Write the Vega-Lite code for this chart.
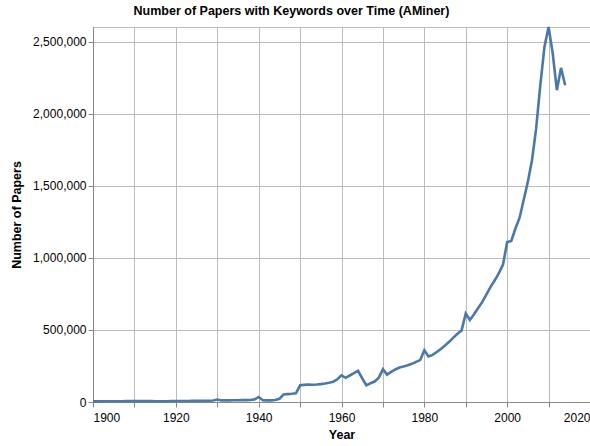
{
  "$schema": "https://vega.github.io/schema/vega-lite/v6.json",
  "autosize": {"type": "none"},
  "padding": {"left": 93, "top": 27, "right": 0, "bottom": 44},
  "width": 497,
  "height": 375,
  "title": {"text": "Number of Papers with Keywords over Time (AMiner)", "fontSize": 12.5, "dx": -50},
  "config": {
    "font": "Liberation Sans",
    "axis": {"gridColor": "#bcbcbc", "domainColor": "#888", "tickColor": "#888", "labelFontSize": 12, "titleFontSize": 12.5},
    "view": {"stroke": "#bcbcbc"}
  },
  "data": {
    "values": [
      {"year": 1900, "papers": 4000}, {"year": 1901, "papers": 4000}, {"year": 1902, "papers": 4000},
      {"year": 1903, "papers": 5000}, {"year": 1904, "papers": 5000}, {"year": 1905, "papers": 5000},
      {"year": 1906, "papers": 5000}, {"year": 1907, "papers": 5000}, {"year": 1908, "papers": 6000},
      {"year": 1909, "papers": 6000}, {"year": 1910, "papers": 7000}, {"year": 1911, "papers": 6000},
      {"year": 1912, "papers": 6000}, {"year": 1913, "papers": 6000}, {"year": 1914, "papers": 6000},
      {"year": 1915, "papers": 5000}, {"year": 1916, "papers": 5000}, {"year": 1917, "papers": 5000},
      {"year": 1918, "papers": 5000}, {"year": 1919, "papers": 6000}, {"year": 1920, "papers": 7000},
      {"year": 1921, "papers": 7000}, {"year": 1922, "papers": 7000}, {"year": 1923, "papers": 7000},
      {"year": 1924, "papers": 8000}, {"year": 1925, "papers": 8000}, {"year": 1926, "papers": 8000},
      {"year": 1927, "papers": 9000}, {"year": 1928, "papers": 9000}, {"year": 1929, "papers": 10000},
      {"year": 1930, "papers": 17000}, {"year": 1931, "papers": 11000}, {"year": 1932, "papers": 11000},
      {"year": 1933, "papers": 11000}, {"year": 1934, "papers": 12000}, {"year": 1935, "papers": 12000},
      {"year": 1936, "papers": 13000}, {"year": 1937, "papers": 13000}, {"year": 1938, "papers": 14000},
      {"year": 1939, "papers": 18000}, {"year": 1940, "papers": 35000}, {"year": 1941, "papers": 12000},
      {"year": 1942, "papers": 11000}, {"year": 1943, "papers": 11000}, {"year": 1944, "papers": 14000},
      {"year": 1945, "papers": 22000}, {"year": 1946, "papers": 52000}, {"year": 1947, "papers": 55000},
      {"year": 1948, "papers": 57000}, {"year": 1949, "papers": 60000}, {"year": 1950, "papers": 116000},
      {"year": 1951, "papers": 119000}, {"year": 1952, "papers": 122000}, {"year": 1953, "papers": 120000},
      {"year": 1954, "papers": 121000}, {"year": 1955, "papers": 124000}, {"year": 1956, "papers": 128000},
      {"year": 1957, "papers": 133000}, {"year": 1958, "papers": 141000}, {"year": 1959, "papers": 158000},
      {"year": 1960, "papers": 185000}, {"year": 1961, "papers": 168000}, {"year": 1962, "papers": 184000},
      {"year": 1963, "papers": 200000}, {"year": 1964, "papers": 217000}, {"year": 1965, "papers": 165000},
      {"year": 1966, "papers": 116000}, {"year": 1967, "papers": 130000}, {"year": 1968, "papers": 142000},
      {"year": 1969, "papers": 168000}, {"year": 1970, "papers": 227000}, {"year": 1971, "papers": 190000},
      {"year": 1972, "papers": 209000}, {"year": 1973, "papers": 226000}, {"year": 1974, "papers": 239000},
      {"year": 1975, "papers": 246000}, {"year": 1976, "papers": 255000}, {"year": 1977, "papers": 265000},
      {"year": 1978, "papers": 279000}, {"year": 1979, "papers": 291000}, {"year": 1980, "papers": 360000},
      {"year": 1981, "papers": 316000}, {"year": 1982, "papers": 327000}, {"year": 1983, "papers": 347000},
      {"year": 1984, "papers": 368000}, {"year": 1985, "papers": 392000}, {"year": 1986, "papers": 418000},
      {"year": 1987, "papers": 447000}, {"year": 1988, "papers": 474000}, {"year": 1989, "papers": 497000},
      {"year": 1990, "papers": 615000}, {"year": 1991, "papers": 570000}, {"year": 1992, "papers": 610000},
      {"year": 1993, "papers": 652000}, {"year": 1994, "papers": 695000}, {"year": 1995, "papers": 748000},
      {"year": 1996, "papers": 800000}, {"year": 1997, "papers": 845000}, {"year": 1998, "papers": 895000},
      {"year": 1999, "papers": 955000}, {"year": 2000, "papers": 1110000}, {"year": 2001, "papers": 1118000},
      {"year": 2002, "papers": 1205000}, {"year": 2003, "papers": 1280000}, {"year": 2004, "papers": 1405000},
      {"year": 2005, "papers": 1530000}, {"year": 2006, "papers": 1680000}, {"year": 2007, "papers": 1900000},
      {"year": 2008, "papers": 2200000}, {"year": 2009, "papers": 2465000}, {"year": 2010, "papers": 2604000},
      {"year": 2011, "papers": 2420000}, {"year": 2012, "papers": 2165000}, {"year": 2013, "papers": 2320000},
      {"year": 2014, "papers": 2200000}
    ]
  },
  "mark": {"type": "line", "strokeWidth": 2.6, "color": "#4c78a8"},
  "encoding": {
    "x": {
      "field": "year",
      "type": "quantitative",
      "title": "Year",
      "scale": {"domain": [1900, 2020]},
      "axis": {
        "format": "d",
        "labelPadding": 5,
        "titlePadding": 5,
        "values": [1900, 1910, 1920, 1930, 1940, 1950, 1960, 1970, 1980, 1990, 2000, 2010, 2020],
        "labelExpr": "datum.value % 20 == 0 ? datum.label : ''"
      }
    },
    "y": {
      "field": "papers",
      "type": "quantitative",
      "title": "Number of Papers",
      "scale": {"domain": [0, 2604000], "nice": false},
      "axis": {"titlePadding": 9, "values": [0, 500000, 1000000, 1500000, 2000000, 2500000]}
    }
  }
}
